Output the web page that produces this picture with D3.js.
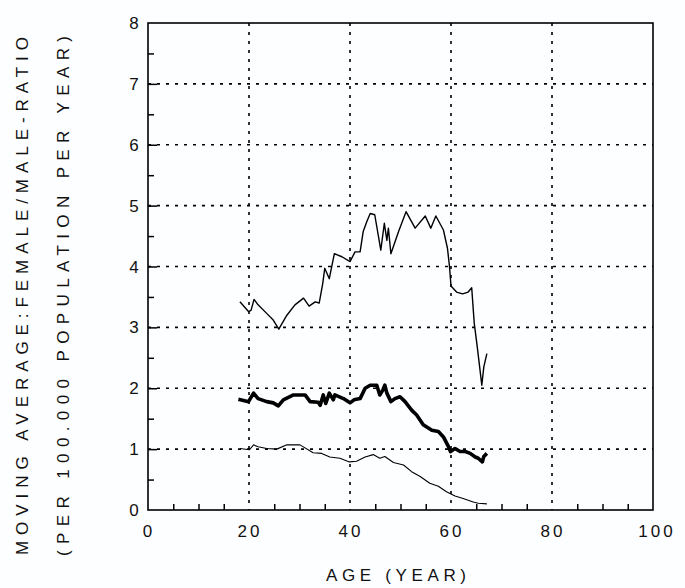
<!DOCTYPE html>
<html>
<head>
<meta charset="utf-8">
<script src="https://cdn.jsdelivr.net/npm/d3@7"></script>
<style>
  html, body { margin: 0; padding: 0; background: #fdfeff; }
  svg { display: block; }
  text { font-family: "Liberation Sans", Arial, sans-serif; fill: #111; }
</style>
</head>
<body>
<svg id="chart" width="685" height="588"></svg>
<script>
// ---- data ----
const xTicks = [0, 20, 40, 60, 80, 100];
const yTicks = [0, 1, 2, 3, 4, 5, 6, 7, 8];
const xLabel = "AGE (YEAR)";
const yLabel1 = "MOVING AVERAGE:FEMALE/MALE-RATIO";
const yLabel2 = "(PER 100.000 POPULATION PER YEAR)";

const upperAge = [18.2, 19.9, 20.4, 21.0, 21.8, 23.5, 24.8, 25.9, 27.5, 29.1, 30.8, 31.9, 33.1, 33.9, 34.6, 35.0, 35.9, 36.9, 38.4, 40.0, 41.0, 42.0, 42.6, 43.3, 44.0, 44.9, 46.1, 46.8, 47.3, 47.6, 48.1, 49.6, 51.1, 52.9, 54.9, 56.0, 57.0, 58.5, 59.3, 59.7, 60.0, 61.1, 62.3, 63.4, 64.1, 64.6, 65.2, 66.1, 66.5, 67.1];
const upperVal = [3.42, 3.26, 3.28, 3.46, 3.37, 3.23, 3.12, 2.97, 3.20, 3.37, 3.48, 3.35, 3.42, 3.40, 3.72, 3.97, 3.80, 4.21, 4.16, 4.08, 4.24, 4.24, 4.57, 4.73, 4.87, 4.85, 4.27, 4.71, 4.43, 4.63, 4.21, 4.57, 4.90, 4.63, 4.83, 4.63, 4.83, 4.60, 4.30, 4.00, 3.68, 3.58, 3.55, 3.58, 3.65, 3.07, 2.68, 2.05, 2.35, 2.57];

const thickAge = [17.9, 19.9, 20.9, 21.8, 23.5, 24.8, 25.8, 26.8, 28.8, 31.1, 32.1, 33.7, 34.1, 34.7, 35.2, 35.9, 36.7, 37.0, 38.7, 40.0, 40.8, 42.0, 43.0, 44.0, 45.3, 45.9, 46.5, 46.9, 47.3, 48.1, 48.9, 49.9, 50.9, 52.2, 53.2, 54.5, 56.2, 57.5, 58.5, 59.5, 59.9, 60.8, 61.8, 62.8, 63.8, 64.8, 65.4, 66.2, 66.5, 67.1];
const thickVal = [1.82, 1.78, 1.92, 1.83, 1.78, 1.76, 1.71, 1.81, 1.89, 1.89, 1.78, 1.77, 1.72, 1.89, 1.75, 1.92, 1.81, 1.89, 1.83, 1.76, 1.81, 1.83, 2.00, 2.05, 2.05, 1.89, 1.97, 2.05, 1.92, 1.78, 1.83, 1.86, 1.78, 1.64, 1.56, 1.40, 1.31, 1.29, 1.20, 1.04, 0.96, 1.01, 0.96, 0.96, 0.93, 0.87, 0.85, 0.79, 0.88, 0.93];

const lowerAge = [18.2, 20.1, 20.9, 21.8, 23.5, 25.5, 27.5, 30.1, 32.7, 34.4, 36.0, 38.0, 39.9, 41.3, 43.0, 44.6, 45.9, 46.9, 48.6, 50.6, 52.2, 53.9, 55.8, 57.5, 59.1, 60.8, 62.4, 64.4, 65.4, 67.1];
const lowerVal = [1.01, 0.99, 1.07, 1.04, 1.01, 1.00, 1.07, 1.07, 0.94, 0.93, 0.87, 0.85, 0.79, 0.80, 0.87, 0.91, 0.85, 0.88, 0.78, 0.74, 0.63, 0.55, 0.44, 0.39, 0.30, 0.23, 0.19, 0.13, 0.11, 0.10];

// ---- layout ----
const svg = d3.select("#chart");
const x = d3.scaleLinear().domain([0, 100]).range([148, 653]);
const y = d3.scaleLinear().domain([0, 8]).range([510, 23]);

// gridlines
const grid = svg.append("g").attr("stroke", "#000").attr("stroke-width", 1.6).attr("stroke-dasharray", "3,6");
grid.selectAll("line.v").data(xTicks.filter(d => d > 0 && d < 100)).join("line")
  .attr("x1", d => x(d)).attr("x2", d => x(d)).attr("y1", y(8)).attr("y2", y(0));
grid.selectAll("line.h").data(yTicks.filter(d => d > 0 && d < 8)).join("line")
  .attr("x1", x(0)).attr("x2", x(100)).attr("y1", d => y(d)).attr("y2", d => y(d));

// minor ticks
const yMinor = d3.range(0.5, 8, 1);
const xMinor = d3.range(5, 100, 5).filter(d => d % 20 !== 0);
svg.append("g").attr("transform", `translate(${x(0)},0)`)
  .call(d3.axisLeft(y).tickValues(yMinor).tickSize(-6).tickFormat(""))
  .call(g => g.select(".domain").remove())
  .call(g => g.selectAll("line").attr("stroke-width", 1.5));
svg.append("g").attr("transform", `translate(${x(0)},0)`)
  .call(d3.axisLeft(y).tickValues(yTicks.filter(d => d > 0 && d < 8)).tickSize(-9).tickFormat(""))
  .call(g => g.select(".domain").remove())
  .call(g => g.selectAll("line").attr("stroke-width", 1.5));
svg.append("g").attr("transform", `translate(0,${y(0)})`)
  .call(d3.axisBottom(x).tickValues(xMinor).tickSize(-6).tickFormat(""))
  .call(g => g.select(".domain").remove())
  .call(g => g.selectAll("line").attr("stroke-width", 1.5));

// tick labels
svg.append("g").selectAll("text").data(yTicks).join("text")
  .attr("x", 134).attr("y", d => y(d)).attr("dy", "0.36em")
  .attr("text-anchor", "middle").attr("font-size", 17)
  .text(d => d);
svg.append("g").selectAll("text").data(xTicks).join("text")
  .attr("x", d => x(d) + (d === 100 ? 4 : 1)).attr("y", 531).attr("dy", "0.36em")
  .attr("text-anchor", "middle").attr("font-size", 17).attr("letter-spacing", 3)
  .text(d => d);

// frame
svg.append("rect").attr("x", x(0)).attr("y", y(8))
  .attr("width", x(100) - x(0)).attr("height", y(0) - y(8))
  .attr("fill", "none").attr("stroke", "#000").attr("stroke-width", 1.6);

// lines
const line = d3.line().x(d => x(d[0])).y(d => y(d[1]));
const series = [
  { a: upperAge, v: upperVal, w: 1.4 },
  { a: thickAge, v: thickVal, w: 3.6 },
  { a: lowerAge, v: lowerVal, w: 1.1 }
];
svg.append("g").selectAll("path").data(series).join("path")
  .attr("d", s => line(d3.zip(s.a, s.v)))
  .attr("fill", "none").attr("stroke", "#000")
  .attr("stroke-width", s => s.w).attr("stroke-linejoin", "round");

// axis titles
svg.append("text").attr("x", 396).attr("y", 575).attr("dy", "0.36em")
  .attr("text-anchor", "middle").attr("font-size", 17)
  .attr("textLength", 140).attr("lengthAdjust", "spacing")
  .text(xLabel);
svg.append("text").attr("transform", "translate(22,296) rotate(-90)").attr("dy", "0.36em")
  .attr("text-anchor", "middle").attr("font-size", 17)
  .attr("textLength", 518).attr("lengthAdjust", "spacing")
  .text(yLabel1);
svg.append("text").attr("transform", "translate(63,296) rotate(-90)").attr("dy", "0.36em")
  .attr("text-anchor", "middle").attr("font-size", 17)
  .attr("textLength", 520).attr("lengthAdjust", "spacing")
  .text(yLabel2);
</script>
</body>
</html>
